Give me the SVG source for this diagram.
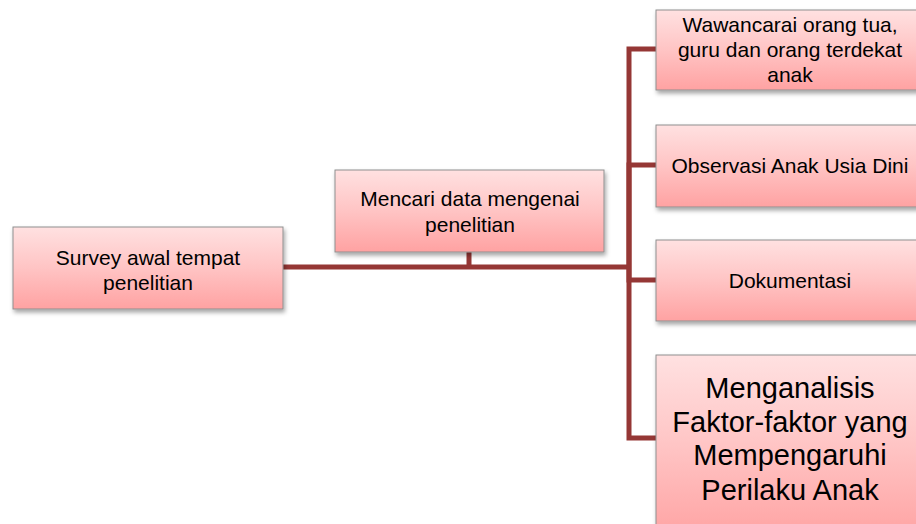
<svg xmlns="http://www.w3.org/2000/svg" width="916" height="524" viewBox="0 0 916 524">
  <defs>
    <linearGradient id="boxFill" x1="0" y1="0" x2="0" y2="1">
      <stop offset="0" stop-color="#ffe1e1"/>
      <stop offset="0.5" stop-color="#ffc4c4"/>
      <stop offset="1" stop-color="#ffa2a2"/>
    </linearGradient>
    <filter id="shadow" x="-10%" y="-10%" width="130%" height="140%">
      <feDropShadow dx="1.5" dy="3" stdDeviation="2" flood-color="#000" flood-opacity="0.35"/>
    </filter>
  </defs>
  <style>
    .box { fill: url(#boxFill); stroke: #8f8f8f; stroke-width: 1; filter: url(#shadow); }
    .txt { font-family: "Liberation Sans", Arial, sans-serif; font-size: 21px; fill: #000; text-anchor: middle; }
    .big { font-size: 29px; }
    .link { fill: none; stroke: #953735; stroke-width: 5; stroke-linejoin: miter; stroke-linecap: butt; }
  </style>
  <rect width="916" height="524" fill="#fff"/>

  <g id="connectors">
    <path class="link" d="M283,267 H629"/>
    <path class="link" d="M469,252 V267"/>
    <path class="link" d="M629,267 V49 H656"/>
    <path class="link" d="M629,267 V165 H656"/>
    <path class="link" d="M629,267 V280 H656"/>
    <path class="link" d="M629,267 V438 H656"/>
  </g>

  <g id="survey">
    <rect class="box" x="13" y="227" width="270" height="82"/>
    <text class="txt" x="148" y="265">Survey awal tempat</text>
    <text class="txt" x="148" y="290">penelitian</text>
  </g>

  <g id="mencari">
    <rect class="box" x="335" y="170" width="269" height="82"/>
    <text class="txt" x="470" y="206">Mencari data mengenai</text>
    <text class="txt" x="470" y="232">penelitian</text>
  </g>

  <g id="wawancara">
    <rect class="box" x="656" y="10" width="270" height="80"/>
    <text class="txt" x="790" y="32">Wawancarai orang tua,</text>
    <text class="txt" x="790" y="57">guru dan orang terdekat</text>
    <text class="txt" x="790" y="82">anak</text>
  </g>

  <g id="observasi">
    <rect class="box" x="656" y="125" width="270" height="82"/>
    <text class="txt" x="790" y="173">Observasi Anak Usia Dini</text>
  </g>

  <g id="dokumentasi">
    <rect class="box" x="656" y="240" width="270" height="81"/>
    <text class="txt" x="790" y="288">Dokumentasi</text>
  </g>

  <g id="menganalisis">
    <rect class="box" x="656" y="355" width="270" height="185"/>
    <text class="txt big" x="790" y="398">Menganalisis</text>
    <text class="txt big" x="790" y="432">Faktor-faktor yang</text>
    <text class="txt big" x="790" y="465">Mempengaruhi</text>
    <text class="txt big" x="790" y="500">Perilaku Anak</text>
  </g>
</svg>
